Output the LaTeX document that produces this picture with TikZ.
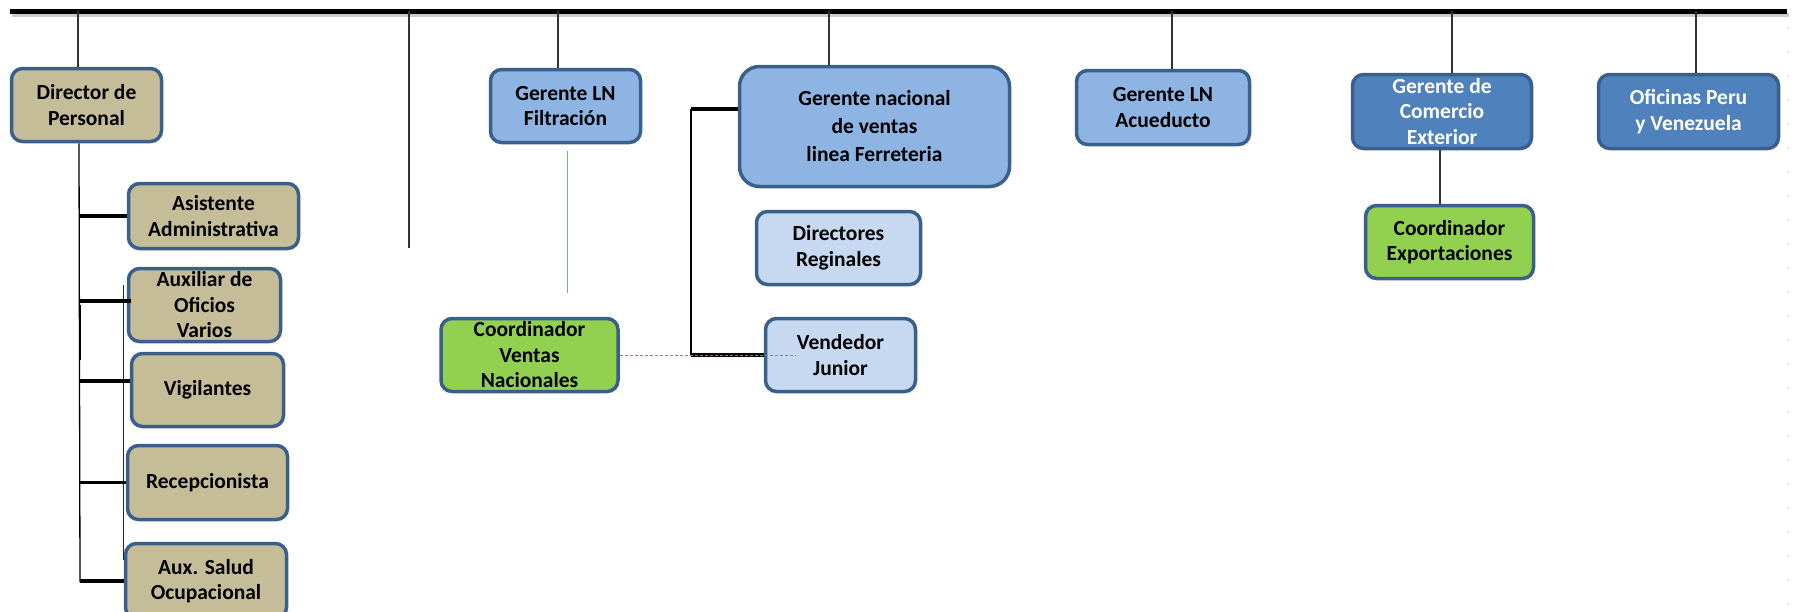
\documentclass[tikz,border=0pt]{standalone}
\usepackage{fontspec}
\setmainfont{Carlito}
\definecolor{bord}{HTML}{3A5F8B}
\definecolor{tanf}{HTML}{C4BD97}
\definecolor{lbf}{HTML}{8EB4E3}
\definecolor{vlbf}{HTML}{C6D9F1}
\definecolor{dbf}{HTML}{4F81BD}
\definecolor{grf}{HTML}{92D050}
\definecolor{lineblue}{HTML}{7FA3D0}
\definecolor{dashblue}{HTML}{5B8BC9}
\begin{document}
\begin{tikzpicture}[x=1pt,y=-1pt,
  orgbox/.style={draw=bord, line width=3.5pt, rounded corners=11pt, align=center, inner sep=0pt,
     font=\fontsize{21.5}{25.5}\selectfont\bfseries, text=black},
  tanbox/.style={orgbox, fill=tanf},
  lbbox/.style={orgbox, fill=lbf},
  vlbbox/.style={orgbox, fill=vlbf},
  dbbox/.style={orgbox, fill=dbf, text=white},
  grbox/.style={orgbox, fill=grf},
  drop/.style={draw=black!80, line width=1.3pt},
  stub/.style={draw=black, line width=3.5pt},
  vline/.style={draw=black, line width=1.3pt},
]
\useasboundingbox (0,0) rectangle (1794,611);
\clip (0,0) rectangle (1794,611);

% top bar
\coordinate (barL) at (10,11);
\coordinate (barR) at (1787,11);
\draw[line width=4pt, black!20] ([xshift=2pt,yshift=-4pt]barL) -- ([xshift=2pt,yshift=-4pt]barR);
\draw[line width=5pt, black] (barL) -- (barR);

% right faint dotted line
\coordinate (dotA) at (1788,28);
\coordinate (dotB) at (1788,605);
\draw[black!30, line width=0.8pt, dash pattern=on 1pt off 23pt] (dotA) -- (dotB);

% nodes
\node[tanbox, minimum width=150pt, minimum height=73pt] (dir) at (86.5,105) {Director de\\Personal};
\node[tanbox, minimum width=170pt, minimum height=65pt] (asis) at (213.5,216) {Asistente\\Administrativa};
\node[tanbox, minimum width=152pt, minimum height=73pt] (aux) at (204.5,305) {Auxiliar de\\Oficios\\Varios};
\node[tanbox, minimum width=152pt, minimum height=73pt] (vig) at (207.5,390) {Vigilantes};
\node[tanbox, minimum width=160pt, minimum height=74pt] (rec) at (207.5,482.5) {Recepcionista};
\node[tanbox, minimum width=161pt, minimum height=75pt] (sal) at (206,581) {Aux. Salud\\Ocupacional};

\node[lbbox, minimum width=150pt, minimum height=73pt] (filt) at (565.5,106) {Gerente LN\\Filtración};
\node[grbox, minimum width=177pt, minimum height=73pt] (cv) at (529.5,355) {Coordinador\\Ventas\\Nacionales};
\node[lbbox, minimum width=270pt, minimum height=120pt, rounded corners=20pt,
      font=\fontsize{21.5}{28}\selectfont\bfseries] (gn) at (874.5,126.5) {Gerente nacional\\de ventas\\linea Ferreteria};
\node[vlbbox, minimum width=164pt, minimum height=73pt] (dr) at (838.5,248) {Directores\\Reginales};
\node[vlbbox, minimum width=150pt, minimum height=73pt] (vj) at (840.5,355) {Vendedor\\Junior};

\node[lbbox, minimum width=173pt, minimum height=74pt] (acu) at (1163,107.5) {Gerente LN\\Acueducto};
\node[dbbox, minimum width=179pt, minimum height=74pt] (com) at (1442,111.5) {Gerente de\\Comercio\\Exterior};
\node[grbox, minimum width=168pt, minimum height=73pt] (exp) at (1449.5,242) {Coordinador\\Exportaciones};
\node[dbbox, minimum width=180pt, minimum height=74pt] (ofi) at (1688.5,111.5) {Oficinas Peru\\y Venezuela};

% drops from the bar
\coordinate (t1) at (78,11);
\coordinate (t2) at (409,11);
\coordinate (t2b) at (409,248);
\coordinate (t3) at (558,11);
\coordinate (t4) at (829,11);
\coordinate (t5) at (1172,11);
\coordinate (t6) at (1452,11);
\coordinate (t7) at (1696,11);
\draw[drop] (t1) -- (t1 |- dir.north);
\draw[drop] (t2) -- (t2b);
\draw[drop] (t3) -- (t3 |- filt.north);
\draw[drop] (t4) -- (t4 |- gn.north);
\draw[drop] (t5) -- (t5 |- acu.north);
\draw[drop] (t6) -- (t6 |- com.north);
\draw[drop] (t7) -- (t7 |- ofi.north);

% left bracket of Director de Personal
\coordinate (lv) at (79,143);
\coordinate (lvb) at (80,582);
\draw[vline] (lv |- dir.south) -- (lvb);
\coordinate (lvt1) at (80,305);
\coordinate (lvt2) at (80,360);
\draw[line width=2.2pt] (lvt1) -- (lvt2);
\coordinate (l2a) at (123,285);
\coordinate (l2b) at (123,560);
\draw[line width=1pt, black!85] (l2a) -- (l2b);
\draw[stub] (asis.west -| lv) -- (asis.west);
\draw[stub] ([yshift=4pt]aux.west -| lvb) -- ([yshift=4pt,xshift=4pt]aux.west);
\draw[stub] ([yshift=9pt]vig.west -| lv) -- ([yshift=9pt]vig.west);
\draw[stub] (rec.west -| lvb) -- (rec.west);
\draw[stub] (sal.west -| lvb) -- (sal.west);

% Filtracion to Coordinador ventas (thin blue)
\coordinate (cvtop) at (567,293);
\coordinate (cvbot) at (567,151);
\draw[lineblue, line width=1pt] (cvbot) -- (cvtop);

% Gerente nacional bracket
\coordinate (gx) at (691,109);
\draw[stub] ([yshift=17.5pt]gn.west) -- (gx);
\draw[line width=2pt] (gx) -- (gx |- vj.west);
\draw[stub] (gx |- vj.west) -- (vj.west);

% dashed blue line
\coordinate (dend) at (795,355);
\draw[dashblue, line width=1pt, dash pattern=on 3pt off 2pt] (cv.east) -- (dend);

% Comercio to Exportaciones
\draw[drop] ([xshift=-2pt]com.south) -- ([xshift=-2pt]com.south |- exp.north);
\end{tikzpicture}
\end{document}
